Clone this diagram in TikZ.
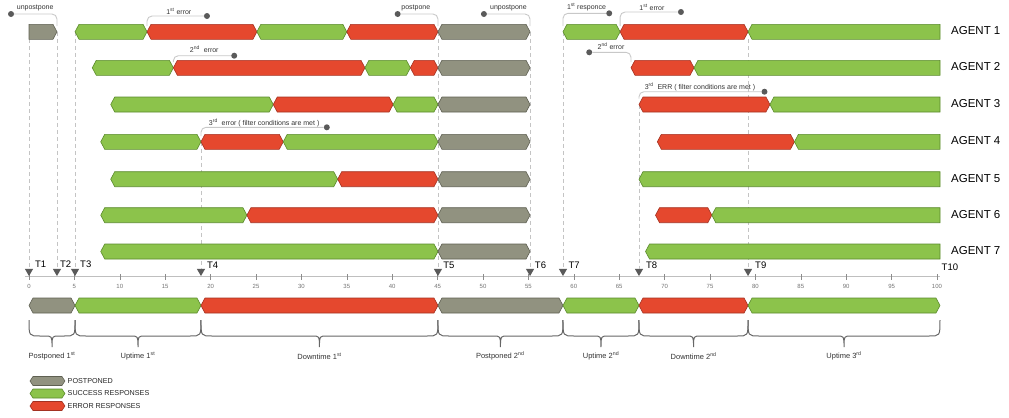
\documentclass[tikz,border=0pt]{standalone}
\usepackage{fontspec}
\setmainfont{Liberation Sans}
\usetikzlibrary{shapes.geometric}

\definecolor{okgreen}{HTML}{8CC34B}
\definecolor{okgreenD}{HTML}{5A8A2C}
\definecolor{errred}{HTML}{E5482E}
\definecolor{errredD}{HTML}{A33222}
\definecolor{ppgray}{HTML}{919280}
\definecolor{ppgrayD}{HTML}{5F6052}
\definecolor{guidegray}{HTML}{C4C4C4}
\definecolor{calloutgray}{HTML}{C8C8C8}
\definecolor{dotgray}{HTML}{5A5A5A}

% hexagon bar: style, from, to, row, half height, left depth, right depth
\newcommand{\hexpath}[7]{\draw[#1] (#2,#4) -- (#2+#6,#4-#5) -- (#3-#7,#4-#5) -- (#3,#4) -- (#3-#7,#4+#5) -- (#2+#6,#4+#5) -- cycle;}
\newcommand{\barseg}[4]{\hexpath{#1}{#2}{#3}{#4}{7.5}{.44}{.44}}
\newcommand{\barsegL}[4]{\hexpath{#1}{#2}{#3}{#4}{7.5}{0}{.44}}
\newcommand{\barsegR}[4]{\hexpath{#1}{#2}{#3}{#4}{7.5}{.44}{0}}
% curly brace under the summary bar
\newcommand{\brc}[2]{\draw[brc] (#1,320) .. controls (#1,336) .. ({#1+1.2},336) -- ({(#1+#2)/2-0.8},336) .. controls ({(#1+#2)/2},336) .. ({(#1+#2)/2},347) .. controls ({(#1+#2)/2},336) .. ({(#1+#2)/2+0.8},336) -- ({#2-1.2},336) .. controls (#2,336) .. (#2,320);}

\begin{document}
\begin{tikzpicture}[x=9.08pt, y=-1pt,
    okbar/.style={fill=okgreen, draw=okgreenD, line width=0.6pt},
    errbar/.style={fill=errred, draw=errredD, line width=0.6pt},
    ppbar/.style={fill=ppgray, draw=ppgrayD, line width=0.6pt},
    guide/.style={draw=guidegray, dash pattern=on 4pt off 3pt, line width=0.6pt},
    callout/.style={draw=calloutgray, line width=0.9pt, rounded corners=5pt},
    calldot/.style={circle, fill=dotgray, inner sep=0pt, minimum size=6pt},
    tmark/.style={regular polygon, regular polygon sides=3, shape border rotate=180, fill=dotgray, inner sep=0pt, minimum size=9.5pt},
    tlab/.style={anchor=west, inner sep=0pt, font=\fontsize{9.5}{10}\selectfont},
    agent/.style={anchor=west, inner sep=0pt, font=\fontsize{11.5}{12}\selectfont},
    note/.style={inner sep=0pt, text=black!80, font=\fontsize{7}{8}\selectfont},
    brlab/.style={inner sep=0pt, text=black!80, font=\fontsize{7.5}{8}\selectfont},
    leglab/.style={anchor=west, inner sep=0pt, text=black!85, font=\fontsize{7.2}{8}\selectfont},
    ticklab/.style={inner sep=0pt, text=black!55, font=\fontsize{6}{6}\selectfont},
    axtick/.style={draw=black!45, line width=0.5pt},
    brc/.style={draw=black!60, line width=1pt}]
    \useasboundingbox (-3.194,0) rectangle (107.93,418);

    % axis
    \draw[draw=black!25, line width=0.8pt] (-0.45,276.7) -- (100.3,276.7);
    \foreach \t in {0,5,...,100} {
        \draw[axtick] (\t,274) -- (\t,280);
        \node[ticklab] (tl\t) at (\t,286.5) {\t};
    }

    % time markers
    \node[tmark] (tm1) at (0,271.3) {};
    \node[tmark] (tm2) at (3.08,271.3) {};
    \node[tmark] (tm3) at (5.07,271.3) {};
    \node[tmark] (tm4) at (18.94,271.3) {};
    \node[tmark] (tm5) at (45.04,271.3) {};
    \node[tmark] (tm6) at (55.18,271.3) {};
    \node[tmark] (tm7) at (58.81,271.3) {};
    \node[tmark] (tm8) at (67.18,271.3) {};
    \node[tmark] (tm9) at (79.19,271.3) {};
    \node[tlab] (T1) at (0.66,264.5) {T1};
    \node[tlab] (T2) at (3.41,264.5) {T2};
    \node[tlab] (T3) at (5.62,264.5) {T3};
    \node[tlab] (T4) at (19.6,265) {T4};
    \node[tlab] (T5) at (45.6,265) {T5};
    \node[tlab] (T6) at (55.7,265) {T6};
    \node[tlab] (T7) at (59.4,265) {T7};
    \node[tlab] (T8) at (67.95,265) {T8};
    \node[tlab] (T9) at (79.96,265) {T9};
    \node[tlab] (T10) at (100.5,267.7) {T10};

    % guide lines
    \draw[guide] (0,39.3) -- (tm1.north);
    \draw[guide] (3.08,31.8) -- (tm2.north);
    \draw[guide] (5.07,31.8) -- (tm3.north);
    \draw[guide] (18.94,141.8) -- (tm4.north);
    \draw[guide] (45.04,31.8) -- (tm5.north);
    \draw[guide] (55.18,31.8) -- (tm6.north);
    \draw[guide] (58.81,31.8) -- (tm7.north);
    \draw[guide] (67.18,104.5) -- (tm8.north);
    \draw[guide] (79.19,39.3) -- (tm9.north);

    % agent 1
    \barsegL{ppbar}{0}{3.08}{31.8}
    \barseg{okbar}{5.07}{13.0}{31.8}
    \barseg{errbar}{13.0}{25.1}{31.8}
    \barseg{okbar}{25.1}{35.0}{31.8}
    \barseg{errbar}{35.0}{45.04}{31.8}
    \barseg{ppbar}{45.04}{55.18}{31.8}
    \barseg{okbar}{58.81}{65.1}{31.8}
    \barseg{errbar}{65.1}{79.19}{31.8}
    \barsegR{okbar}{79.19}{100.33}{31.8}
    % agent 2
    \barseg{okbar}{6.97}{15.9}{67.8}
    \barseg{errbar}{15.9}{37.0}{67.8}
    \barseg{okbar}{37.0}{42.0}{67.8}
    \barseg{errbar}{42.0}{45.04}{67.8}
    \barseg{ppbar}{45.04}{55.18}{67.8}
    \barseg{errbar}{66.3}{73.24}{67.8}
    \barsegR{okbar}{73.24}{100.33}{67.8}
    % agent 3
    \barseg{okbar}{9.0}{26.9}{104.5}
    \barseg{errbar}{26.9}{40.1}{104.5}
    \barseg{okbar}{40.1}{45.04}{104.5}
    \barseg{ppbar}{45.04}{55.18}{104.5}
    \barseg{errbar}{67.18}{81.6}{104.5}
    \barsegR{okbar}{81.6}{100.33}{104.5}
    % agent 4
    \barseg{okbar}{7.9}{18.94}{141.8}
    \barseg{errbar}{18.94}{28.0}{141.8}
    \barseg{okbar}{28.0}{45.04}{141.8}
    \barseg{ppbar}{45.04}{55.18}{141.8}
    \barseg{errbar}{69.2}{84.3}{141.8}
    \barsegR{okbar}{84.3}{100.33}{141.8}
    % agent 5
    \barseg{okbar}{9.0}{34.0}{179.2}
    \barseg{errbar}{34.0}{45.04}{179.2}
    \barseg{ppbar}{45.04}{55.18}{179.2}
    \barsegR{okbar}{67.18}{100.33}{179.2}
    % agent 6
    \barseg{okbar}{7.9}{24.0}{215.2}
    \barseg{errbar}{24.0}{45.04}{215.2}
    \barseg{ppbar}{45.04}{55.18}{215.2}
    \barseg{errbar}{69.0}{75.2}{215.2}
    \barsegR{okbar}{75.2}{100.33}{215.2}
    % agent 7
    \barseg{okbar}{7.9}{45.04}{251.5}
    \barseg{ppbar}{45.04}{55.18}{251.5}
    \barsegR{okbar}{67.9}{100.33}{251.5}

    % agent names
    \node[agent] (agent1) at (101.54,31) {AGENT 1};
    \node[agent] (agent2) at (101.54,67) {AGENT 2};
    \node[agent] (agent3) at (101.54,103.5) {AGENT 3};
    \node[agent] (agent4) at (101.54,140.8) {AGENT 4};
    \node[agent] (agent5) at (101.54,178.2) {AGENT 5};
    \node[agent] (agent6) at (101.54,214.2) {AGENT 6};
    \node[agent] (agent7) at (101.54,250.5) {AGENT 7};

    % callouts
    \node[calldot] (cd1) at (-1.98,14) {};
    \node[calldot] (cd2) at (19.6,16) {};
    \node[calldot] (cd3) at (22.6,55.7) {};
    \node[calldot] (cd4) at (40.6,14) {};
    \node[calldot] (cd5) at (50.1,14) {};
    \node[calldot] (cd6) at (63.9,13.3) {};
    \node[calldot] (cd7) at (71.8,12) {};
    \node[calldot] (cd8) at (61.7,52.3) {};
    \node[calldot] (cd9) at (81.0,91.7) {};
    \node[calldot] (cd10) at (32.8,127.3) {};
    \draw[callout] (3.08,26) |- (cd1);
    \draw[callout] (13.0,26) |- (cd2);
    \draw[callout] (15.9,62) |- (cd3);
    \draw[callout] (45.04,26) |- (cd4);
    \draw[callout] (55.18,26) |- (cd5);
    \draw[callout] (58.81,26) |- (cd6);
    \draw[callout] (65.1,26) |- (cd7);
    \draw[callout] (66.3,62) |- (cd8);
    \draw[callout] (67.18,98.5) |- (cd9);
    \draw[callout] (18.94,136) |- (cd10);
    \node[note] (n1) at (0.68,8.3) {unpostpone};
    \node[note] (n2) at (16.5,11.7) {1\textsuperscript{st} error};
    \node[note] (n3) at (19.3,49.5) {2\textsuperscript{nd}\ \ error};
    \node[note] (n4) at (42.6,8.3) {postpone};
    \node[note] (n5) at (52.8,8.3) {unpostpone};
    \node[note] (n6) at (61.4,7.3) {1\textsuperscript{st} responce};
    \node[note] (n7) at (68.6,7.3) {1\textsuperscript{st} error};
    \node[note] (n8) at (64.1,46.7) {2\textsuperscript{nd} error};
    \node[note] (n9) at (73.9,86.7) {3\textsuperscript{rd}\ \ ERR ( filter conditions are met )};
    \node[note] (n10) at (25.9,122.7) {3\textsuperscript{rd}\ \ error ( filter conditions are met )};

    % summary bar
    \barseg{ppbar}{0}{5.07}{305.5}
    \barseg{okbar}{5.07}{18.94}{305.5}
    \barseg{errbar}{18.94}{45.04}{305.5}
    \barseg{ppbar}{45.04}{58.81}{305.5}
    \barseg{okbar}{58.81}{67.18}{305.5}
    \barseg{errbar}{67.18}{79.19}{305.5}
    \barseg{okbar}{79.19}{100.33}{305.5}

    % braces
    \brc{0}{5.07}
    \brc{5.07}{18.94}
    \brc{18.94}{45.04}
    \brc{45.04}{58.81}
    \brc{58.81}{67.18}
    \brc{67.18}{79.19}
    \brc{79.19}{100.33}
    \node[brlab] (b1) at (2.54,356) {Postponed 1\textsuperscript{st}};
    \node[brlab] (b2) at (12.0,356) {Uptime 1\textsuperscript{st}};
    \node[brlab] (b3) at (32.0,356) {Downtime 1\textsuperscript{st}};
    \node[brlab] (b4) at (51.9,356) {Postponed 2\textsuperscript{nd}};
    \node[brlab] (b5) at (63.0,356) {Uptime 2\textsuperscript{nd}};
    \node[brlab] (b6) at (73.2,356) {Downtime 2\textsuperscript{nd}};
    \node[brlab] (b7) at (89.76,356) {Uptime 3\textsuperscript{rd}};

    % legend
    \hexpath{ppbar}{0.11}{3.96}{381}{4.5}{.33}{.33}
    \hexpath{okbar}{0.11}{3.96}{393.5}{4.5}{.33}{.33}
    \hexpath{errbar}{0.11}{3.96}{406}{4.5}{.33}{.33}
    \node[leglab] (leg1) at (4.24,381) {POSTPONED};
    \node[leglab] (leg2) at (4.24,393.5) {SUCCESS RESPONSES};
    \node[leglab] (leg3) at (4.24,406) {ERROR RESPONSES};
\end{tikzpicture}
\end{document}
